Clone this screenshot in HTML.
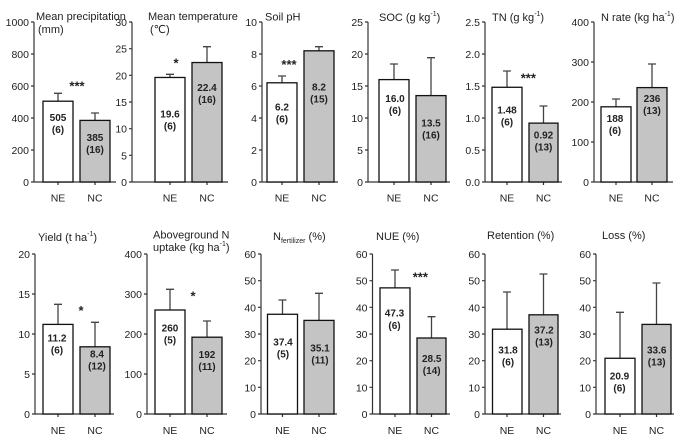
<!DOCTYPE html>
<html><head><meta charset="utf-8"><style>
html,body{margin:0;padding:0;background:#fff;}
svg{display:block;}
text{font-family:"Liberation Sans",Arial,"DejaVu Sans",sans-serif;fill:#222;}
.t{font-size:10.5px;}
.tl{font-size:10.5px;text-anchor:end;}
.xl{font-size:10.5px;text-anchor:middle;}
.ti{font-size:11px;}
.v{font-size:10px;font-weight:bold;text-anchor:middle;}
.s{font-size:13px;font-weight:bold;text-anchor:middle;}
.ax{stroke:#333;stroke-width:1.2;fill:none;}
.b1{fill:#fff;stroke:#111;stroke-width:1.3;}
.b2{fill:#c4c4c4;stroke:#111;stroke-width:1.3;}
.e{stroke:#444;stroke-width:1.3;fill:none;}
</style></head><body>
<svg width="700" height="438" viewBox="0 0 700 438" xmlns="http://www.w3.org/2000/svg">

<!-- P1 precipitation -->
<g>
<path class="ax" d="M34,22V182H116M31,22H34M31,54H34M31,86H34M31,118H34M31,150H34M31,182H34M58,182V185M95,182V185"/>
<text class="tl" x="29" y="26">1000</text><text class="tl" x="29" y="58">800</text><text class="tl" x="29" y="90">600</text><text class="tl" x="29" y="122">400</text><text class="tl" x="29" y="154">200</text><text class="tl" x="29" y="186">0</text>
<path class="e" d="M58,101.2V93.3M54,93.3H62M95,120.4V113M91,113H99"/>
<rect class="b1" x="43" y="101.2" width="30" height="80.8"/>
<rect class="b2" x="80" y="120.4" width="30" height="61.6"/>
<text class="v" x="58" y="121">505</text><text class="v" x="58" y="133">(6)</text>
<text class="v" x="95" y="141">385</text><text class="v" x="95" y="153">(16)</text>
<text class="s" x="77" y="90.5">***</text>
<text class="ti" x="36" y="20">Mean precipitation</text><text class="ti" x="38" y="33">(mm)</text>
<text class="xl" x="58" y="201.5">NE</text><text class="xl" x="95" y="201.5">NC</text>
</g>

<!-- P2 temperature -->
<g>
<path class="ax" d="M132,22V182H228M129,22H132M129,48.67H132M129,75.33H132M129,102H132M129,128.67H132M129,155.33H132M129,182H132M170,182V185M207,182V185"/>
<text class="tl" x="127" y="26">30</text><text class="tl" x="127" y="52.7">25</text><text class="tl" x="127" y="79.3">20</text><text class="tl" x="127" y="106">15</text><text class="tl" x="127" y="132.7">10</text><text class="tl" x="127" y="159.3">5</text><text class="tl" x="127" y="186">0</text>
<path class="e" d="M170,77.5V74.3M166,74.3H174M207,62.5V46.7M203,46.7H211"/>
<rect class="b1" x="155" y="77.47" width="30" height="104.53"/>
<rect class="b2" x="192" y="62.53" width="30" height="119.47"/>
<text class="v" x="170" y="117.6">19.6</text><text class="v" x="170" y="129.6">(6)</text>
<text class="v" x="207" y="91">22.4</text><text class="v" x="207" y="103">(16)</text>
<text class="s" x="176" y="67.5">*</text>
<text class="ti" x="148" y="20">Mean temperature</text><text class="ti" x="150" y="33">(℃)</text>
<text class="xl" x="170" y="201.5">NE</text><text class="xl" x="207" y="201.5">NC</text>
</g>

<!-- P3 pH -->
<g>
<path class="ax" d="M262,22V182H338M259,22H262M259,54H262M259,86H262M259,118H262M259,150H262M259,182H262M282,182V185M319,182V185"/>
<text class="tl" x="257" y="26">10</text><text class="tl" x="257" y="58">8</text><text class="tl" x="257" y="90">6</text><text class="tl" x="257" y="122">4</text><text class="tl" x="257" y="154">2</text><text class="tl" x="257" y="186">0</text>
<path class="e" d="M282,82.8V76M278,76H286M319,50.8V46.7M315,46.7H323"/>
<rect class="b1" x="267" y="82.8" width="30" height="99.2"/>
<rect class="b2" x="304" y="50.8" width="30" height="131.2"/>
<text class="v" x="282" y="110.3">6.2</text><text class="v" x="282" y="122.3">(6)</text>
<text class="v" x="319" y="90.3">8.2</text><text class="v" x="319" y="102.3">(15)</text>
<text class="s" x="289" y="69.2">***</text>
<text class="ti" x="265" y="20.5">Soil pH</text>
<text class="xl" x="282" y="201.5">NE</text><text class="xl" x="319" y="201.5">NC</text>
</g>

<!-- P4 SOC -->
<g>
<path class="ax" d="M368,22V182H450M365,22H368M365,54H368M365,86H368M365,118H368M365,150H368M365,182H368M394,182V185M431,182V185"/>
<text class="tl" x="363" y="26">25</text><text class="tl" x="363" y="58">20</text><text class="tl" x="363" y="90">15</text><text class="tl" x="363" y="122">10</text><text class="tl" x="363" y="154">5</text><text class="tl" x="363" y="186">0</text>
<path class="e" d="M394,79.6V64M390,64H398M431,95.6V57.7M427,57.7H435"/>
<rect class="b1" x="379" y="79.6" width="30" height="102.4"/>
<rect class="b2" x="416" y="95.6" width="30" height="86.4"/>
<text class="v" x="395" y="101.9">16.0</text><text class="v" x="395" y="113.9">(6)</text>
<text class="v" x="431" y="126.3">13.5</text><text class="v" x="431" y="138.3">(16)</text>
<text class="ti" x="379" y="21">SOC (g kg<tspan font-size="7" dy="-5">-1</tspan><tspan dy="5">)</tspan></text>
<text class="xl" x="394" y="201.5">NE</text><text class="xl" x="431" y="201.5">NC</text>
</g>

<!-- P5 TN -->
<g>
<path class="ax" d="M485,22V182H562M482,22H485M482,54H485M482,86H485M482,118H485M482,150H485M482,182H485M507,182V185M543.5,182V185"/>
<text class="tl" x="480" y="26">2.5</text><text class="tl" x="480" y="58">2.0</text><text class="tl" x="480" y="90">1.5</text><text class="tl" x="480" y="122">1.0</text><text class="tl" x="480" y="154">0.5</text><text class="tl" x="480" y="186">0.0</text>
<path class="e" d="M507,87.3V71M503,71H511M543.5,123.1V106M539.5,106H547.5"/>
<rect class="b1" x="492" y="87.28" width="30" height="94.72"/>
<rect class="b2" x="529" y="123.12" width="29" height="58.88"/>
<text class="v" x="507" y="113.6">1.48</text><text class="v" x="507" y="125.6">(6)</text>
<text class="v" x="543.5" y="138.6">0.92</text><text class="v" x="543.5" y="150.6">(13)</text>
<text class="s" x="528.3" y="82.5">***</text>
<text class="ti" x="492" y="21">TN (g kg<tspan font-size="7" dy="-5">-1</tspan><tspan dy="5">)</tspan></text>
<text class="xl" x="507" y="201.5">NE</text><text class="xl" x="543.5" y="201.5">NC</text>
</g>

<!-- P6 N rate -->
<g>
<path class="ax" d="M594,22V182H673M591,22H594M591,62H594M591,102H594M591,142H594M591,182H594M616,182V185M652,182V185"/>
<text class="tl" x="589" y="26">400</text><text class="tl" x="589" y="66">300</text><text class="tl" x="589" y="106">200</text><text class="tl" x="589" y="146">100</text><text class="tl" x="589" y="186">0</text>
<path class="e" d="M616,106.8V99M612,99H620M652,87.6V64M648,64H656"/>
<rect class="b1" x="601" y="106.8" width="30" height="75.2"/>
<rect class="b2" x="637" y="87.6" width="30" height="94.4"/>
<text class="v" x="615" y="121.9">188</text><text class="v" x="615" y="133.9">(6)</text>
<text class="v" x="652" y="101.9">236</text><text class="v" x="652" y="113.9">(13)</text>
<text class="ti" x="601" y="21">N rate (kg ha<tspan font-size="7" dy="-5">-1</tspan><tspan dy="5">)</tspan></text>
<text class="xl" x="616" y="201.5">NE</text><text class="xl" x="652" y="201.5">NC</text>
</g>

<!-- Q1 Yield -->
<g>
<path class="ax" d="M35,254V414H114M32,254H35M32,294H35M32,334H35M32,374H35M32,414H35M58,414V417M95,414V417"/>
<text class="tl" x="30" y="258">20</text><text class="tl" x="30" y="298">15</text><text class="tl" x="30" y="338">10</text><text class="tl" x="30" y="378">5</text><text class="tl" x="30" y="418">0</text>
<path class="e" d="M58,324.4V304.3M54,304.3H62M95,346.8V322.3M91,322.3H99"/>
<rect class="b1" x="43" y="324.4" width="30" height="89.6"/>
<rect class="b2" x="80" y="346.8" width="30" height="67.2"/>
<text class="v" x="57" y="341.3">11.2</text><text class="v" x="57" y="353.3">(6)</text>
<text class="v" x="97" y="357.6">8.4</text><text class="v" x="97" y="369.6">(12)</text>
<text class="s" x="81" y="315.2">*</text>
<text class="ti" x="38" y="241">Yield (t ha<tspan font-size="7" dy="-5">-1</tspan><tspan dy="5">)</tspan></text>
<text class="xl" x="58" y="434">NE</text><text class="xl" x="95" y="434">NC</text>
</g>

<!-- Q2 uptake -->
<g>
<path class="ax" d="M147,254V414H227M144,254H147M144,294H147M144,334H147M144,374H147M144,414H147M170,414V417M207,414V417"/>
<text class="tl" x="142" y="258">400</text><text class="tl" x="142" y="298">300</text><text class="tl" x="142" y="338">200</text><text class="tl" x="142" y="378">100</text><text class="tl" x="142" y="418">0</text>
<path class="e" d="M170,310V289.3M166,289.3H174M207,337.2V321M203,321H211"/>
<rect class="b1" x="155" y="310" width="30" height="104"/>
<rect class="b2" x="192" y="337.2" width="30" height="76.8"/>
<text class="v" x="170" y="331.3">260</text><text class="v" x="170" y="343.3">(5)</text>
<text class="v" x="207" y="357.9">192</text><text class="v" x="207" y="369.9">(11)</text>
<text class="s" x="193" y="300.5">*</text>
<text class="ti" x="153" y="238.5">Aboveground N</text>
<text class="ti" x="153" y="251">uptake (kg ha<tspan font-size="7" dy="-5">-1</tspan><tspan dy="5">)</tspan></text>
<text class="xl" x="170" y="434">NE</text><text class="xl" x="207" y="434">NC</text>
</g>

<!-- Q3 N fertilizer -->
<g>
<path class="ax" d="M261,254V414H337M258,254H261M258,280.67H261M258,307.33H261M258,334H261M258,360.67H261M258,387.33H261M258,414H261M282.5,414V417M319,414V417"/>
<text class="tl" x="256" y="258">60</text><text class="tl" x="256" y="284.7">50</text><text class="tl" x="256" y="311.3">40</text><text class="tl" x="256" y="338">30</text><text class="tl" x="256" y="364.7">20</text><text class="tl" x="256" y="391.3">10</text><text class="tl" x="256" y="418">0</text>
<path class="e" d="M282.5,314.3V300M278.5,300H286.5M319,320.4V293.3M315,293.3H323"/>
<rect class="b1" x="267.5" y="314.27" width="30" height="99.73"/>
<rect class="b2" x="304" y="320.4" width="30" height="93.6"/>
<text class="v" x="283" y="345.3">37.4</text><text class="v" x="283" y="357.3">(5)</text>
<text class="v" x="320" y="351.3">35.1</text><text class="v" x="320" y="363.3">(11)</text>
<text class="ti" x="273" y="240">N<tspan font-size="7" dy="3">fertilizer</tspan><tspan dy="-3"> (%)</tspan></text>
<text class="xl" x="282.5" y="434">NE</text><text class="xl" x="319" y="434">NC</text>
</g>

<!-- Q4 NUE -->
<g>
<path class="ax" d="M372.5,254V414H450M369.5,254H372.5M369.5,280.67H372.5M369.5,307.33H372.5M369.5,334H372.5M369.5,360.67H372.5M369.5,387.33H372.5M369.5,414H372.5M395,414V417M431.5,414V417"/>
<text class="tl" x="367.5" y="258">60</text><text class="tl" x="367.5" y="284.7">50</text><text class="tl" x="367.5" y="311.3">40</text><text class="tl" x="367.5" y="338">30</text><text class="tl" x="367.5" y="364.7">20</text><text class="tl" x="367.5" y="391.3">10</text><text class="tl" x="367.5" y="418">0</text>
<path class="e" d="M395,287.9V270M391,270H399M431.5,338V316.7M427.5,316.7H435.5"/>
<rect class="b1" x="380" y="287.87" width="30" height="126.13"/>
<rect class="b2" x="417" y="338" width="29" height="76"/>
<text class="v" x="394.5" y="316.3">47.3</text><text class="v" x="394.5" y="329">(6)</text>
<text class="v" x="431.7" y="361.9">28.5</text><text class="v" x="431.7" y="373.9">(14)</text>
<text class="s" x="420.3" y="281.5">***</text>
<text class="ti" x="376" y="240">NUE (%)</text>
<text class="xl" x="395" y="434">NE</text><text class="xl" x="431.5" y="434">NC</text>
</g>

<!-- Q5 Retention -->
<g>
<path class="ax" d="M485,254V414H561M482,254H485M482,280.67H485M482,307.33H485M482,334H485M482,360.67H485M482,387.33H485M482,414H485M507,414V417M543.5,414V417"/>
<text class="tl" x="480" y="258">60</text><text class="tl" x="480" y="284.7">50</text><text class="tl" x="480" y="311.3">40</text><text class="tl" x="480" y="338">30</text><text class="tl" x="480" y="364.7">20</text><text class="tl" x="480" y="391.3">10</text><text class="tl" x="480" y="418">0</text>
<path class="e" d="M507,329.2V292M503,292H511M543.5,314.8V274M539.5,274H547.5"/>
<rect class="b1" x="492.5" y="329.2" width="29.5" height="84.8"/>
<rect class="b2" x="529" y="314.8" width="29" height="99.2"/>
<text class="v" x="508" y="353.6">31.8</text><text class="v" x="508" y="365.6">(6)</text>
<text class="v" x="544" y="333.6">37.2</text><text class="v" x="544" y="345.6">(13)</text>
<text class="ti" x="487" y="239">Retention (%)</text>
<text class="xl" x="507" y="434">NE</text><text class="xl" x="543.5" y="434">NC</text>
</g>

<!-- Q6 Loss -->
<g>
<path class="ax" d="M596,254V414H674M593,254H596M593,280.67H596M593,307.33H596M593,334H596M593,360.67H596M593,387.33H596M593,414H596M620,414V417M656.5,414V417"/>
<text class="tl" x="591" y="258">60</text><text class="tl" x="591" y="284.7">50</text><text class="tl" x="591" y="311.3">40</text><text class="tl" x="591" y="338">30</text><text class="tl" x="591" y="364.7">20</text><text class="tl" x="591" y="391.3">10</text><text class="tl" x="591" y="418">0</text>
<path class="e" d="M620,358.3V312.3M616,312.3H624M656.5,324.4V283M652.5,283H660.5"/>
<rect class="b1" x="605" y="358.27" width="30" height="55.73"/>
<rect class="b2" x="642" y="324.4" width="29" height="89.6"/>
<text class="v" x="619.5" y="379.3">20.9</text><text class="v" x="619.5" y="391.3">(6)</text>
<text class="v" x="656.7" y="353.6">33.6</text><text class="v" x="656.7" y="365.6">(13)</text>
<text class="ti" x="602" y="239">Loss (%)</text>
<text class="xl" x="620" y="434">NE</text><text class="xl" x="656.5" y="434">NC</text>
</g>

</svg>
</body></html>
